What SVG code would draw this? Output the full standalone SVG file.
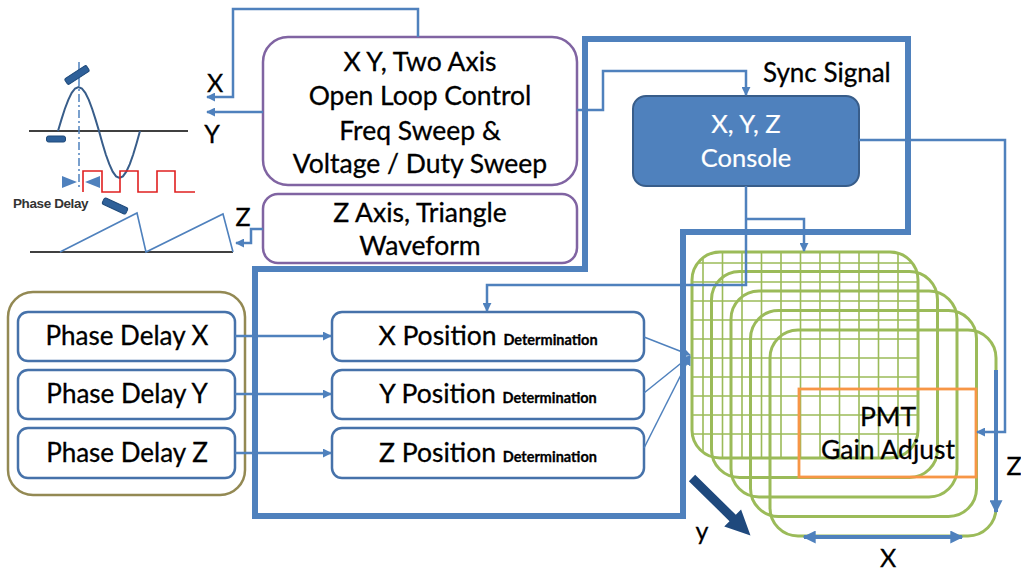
<svg xmlns="http://www.w3.org/2000/svg" width="1021" height="574" viewBox="0 0 1021 574">
  <defs>
    <style>
      .txt { font-family: Lato, "Open Sans", "Liberation Sans", sans-serif; fill: #000; stroke: #000; stroke-width: 0.3; }
      .wt { fill: #fff; stroke: #fff; stroke-width: 0.2; }
      .box { fill: #fff; stroke-width: 2.5; }
      .conn { fill: none; stroke: #4F81BD; stroke-width: 2.5; }
      .thin { fill: none; stroke: #4F81BD; stroke-width: 1.5; }
      .grid { stroke: #9BBB59; stroke-width: 1.6; }
      .layer { fill: none; stroke: #9BBB59; stroke-width: 3; }
      .mark { fill: #2E6099; stroke: #1F4A7A; stroke-width: 1; }
    </style>
    <marker id="ah" viewBox="0 0 10 10" refX="9" refY="5" markerWidth="9" markerHeight="9" markerUnits="userSpaceOnUse" orient="auto">
      <path d="M0,0 L10,5 L0,10 Z" fill="#4F81BD"/>
    </marker>
    <marker id="ahBig" viewBox="0 0 10 10" refX="9" refY="5" markerWidth="13" markerHeight="13" markerUnits="userSpaceOnUse" orient="auto-start-reverse">
      <path d="M0,0 L10,5 L0,10 Z" fill="#4F81BD"/>
    </marker>
    <clipPath id="backLayer">
      <rect x="692" y="252" width="226" height="206" rx="28"/>
    </clipPath>
  </defs>

  <!-- scan waveform sketch -->
  <g id="waveforms">
    <line x1="29" y1="131" x2="188" y2="131" stroke="#000" stroke-width="1.5"/>
    <line x1="79" y1="62" x2="79" y2="190" stroke="#4F81BD" stroke-width="1.5" stroke-dasharray="8 3 2 3"/>
    <polyline fill="none" stroke="#385D8A" stroke-width="2"
      points="58,131 61.4,119.6 64.8,109 68.3,99.9 71.7,92.9 75.1,88.5 78.5,87 81.9,88.5 85.3,92.9 88.8,99.9 92.2,109 95.6,119.6 99,131 102.4,143.2 105.8,154.5 109.3,164.2 112.7,171.7 116.1,176.4 119.5,178 122.9,176.4 126.3,171.7 129.8,164.2 133.2,154.5 136.6,143.2 140,131"/>
    <polyline fill="none" stroke="#E02020" stroke-width="1.6"
      points="83,192 83,171 102,171 102,192 120,192 120,171 138,171 138,192 157,192 157,171 175,171 175,192 195,192"/>
    <path d="M62,176 L77,182 L62,188 Z" fill="#4F81BD"/>
    <path d="M100,176 L85,182 L100,188 Z" fill="#4F81BD"/>
    <rect class="mark" x="64" y="71.5" width="26" height="7" rx="2" transform="rotate(-33 77 75)"/>
    <rect class="mark" x="46.5" y="136" width="19" height="6" rx="2"/>
    <rect class="mark" x="102" y="202.5" width="26" height="7" rx="2" transform="rotate(25 115 206)"/>
    <text x="13" y="208" font-family="'Liberation Sans', Arial, sans-serif" font-weight="bold" font-size="13.5" fill="#333" letter-spacing="-0.4">Phase Delay</text>
    <line x1="30" y1="252" x2="233" y2="252" stroke="#000" stroke-width="1.5"/>
    <polyline fill="none" stroke="#4F81BD" stroke-width="1.6" points="60,252 137,213 146,252 223,214 233,252"/>
  </g>

  <!-- thick blue frame around the control blocks -->
  <path id="frame" d="M585,39 L908,39 L908,232 L683,232 L683,516 L255,516 L255,269 L585,269 Z" fill="none" stroke="#4F81BD" stroke-width="6" stroke-linejoin="miter"/>

  <!-- stacked scan planes -->
  <g id="scan-planes">
    <g clip-path="url(#backLayer)">
      <g class="grid">
        <line x1="703" y1="250" x2="703" y2="460"/>
        <line x1="722.5" y1="250" x2="722.5" y2="460"/>
        <line x1="742" y1="250" x2="742" y2="460"/>
        <line x1="761.5" y1="250" x2="761.5" y2="460"/>
        <line x1="781" y1="250" x2="781" y2="460"/>
        <line x1="800.5" y1="250" x2="800.5" y2="460"/>
        <line x1="820" y1="250" x2="820" y2="460"/>
        <line x1="839.5" y1="250" x2="839.5" y2="460"/>
        <line x1="859" y1="250" x2="859" y2="460"/>
        <line x1="878.5" y1="250" x2="878.5" y2="460"/>
        <line x1="898" y1="250" x2="898" y2="460"/>
        <line x1="690" y1="263" x2="920" y2="263"/>
        <line x1="690" y1="282" x2="920" y2="282"/>
        <line x1="690" y1="301" x2="920" y2="301"/>
        <line x1="690" y1="320" x2="920" y2="320"/>
        <line x1="690" y1="339" x2="920" y2="339"/>
        <line x1="690" y1="358" x2="920" y2="358"/>
        <line x1="690" y1="377" x2="920" y2="377"/>
        <line x1="690" y1="396" x2="920" y2="396"/>
        <line x1="690" y1="415" x2="920" y2="415"/>
        <line x1="690" y1="434" x2="920" y2="434"/>
      </g>
    </g>
    <rect class="layer" x="692" y="252" width="226" height="206" rx="28"/>
    <rect class="layer" x="711.5" y="271.5" width="226" height="206" rx="28"/>
    <rect class="layer" x="731" y="291" width="226" height="206" rx="28"/>
    <rect class="layer" x="750.5" y="310.5" width="226" height="206" rx="28"/>
    <rect class="layer" x="770" y="330" width="226" height="206" rx="28"/>
  </g>

  <g id="pmt">
    <rect x="799" y="389" width="177" height="88" fill="none" stroke="#F79646" stroke-width="2.8"/>
    <text class="txt" x="888" y="426" font-size="26.5" text-anchor="middle">PMT</text>
    <text class="txt" x="888" y="459" font-size="26.5" text-anchor="middle">Gain Adjust</text>
  </g>

  <!-- control blocks -->
  <g id="xy-control">
    <rect class="box" x="263" y="37" width="314" height="148" rx="25" stroke="#8064A2"/>
    <text class="txt" x="420" y="71" font-size="26.5" text-anchor="middle">X Y, Two Axis</text>
    <text class="txt" x="420" y="105" font-size="26.5" text-anchor="middle">Open Loop Control</text>
    <text class="txt" x="420" y="140" font-size="26.5" text-anchor="middle">Freq Sweep &amp;</text>
    <text class="txt" x="420" y="173" font-size="26.5" text-anchor="middle">Voltage / Duty Sweep</text>
  </g>
  <g id="z-control">
    <rect class="box" x="263" y="194" width="314" height="69" rx="15" stroke="#8064A2"/>
    <text class="txt" x="420" y="222" font-size="26.5" text-anchor="middle">Z Axis, Triangle</text>
    <text class="txt" x="420" y="255" font-size="26.5" text-anchor="middle">Waveform</text>
  </g>
  <g id="console">
    <rect x="633" y="96" width="226" height="90" rx="13" fill="#4F81BD" stroke="#385D8A" stroke-width="2"/>
    <text class="txt wt" x="746" y="133" font-size="25.5" text-anchor="middle">X, Y, Z</text>
    <text class="txt wt" x="746" y="167" font-size="25.5" text-anchor="middle">Console</text>
  </g>

  <g id="phase-delays">
    <rect x="8" y="292" width="237" height="203" rx="25" fill="none" stroke="#938953" stroke-width="2.5"/>
    <g id="phase-x">
      <rect class="box" x="18" y="312" width="217" height="49" rx="10" stroke="#4672AA"/>
      <text class="txt" x="127" y="345" font-size="26" text-anchor="middle">Phase Delay X</text>
    </g>
    <g id="phase-y">
      <rect class="box" x="18" y="370" width="217" height="49" rx="10" stroke="#4672AA"/>
      <text class="txt" x="127" y="403" font-size="26" text-anchor="middle">Phase Delay Y</text>
    </g>
    <g id="phase-z">
      <rect class="box" x="18" y="428" width="217" height="50" rx="10" stroke="#4672AA"/>
      <text class="txt" x="127" y="462" font-size="26" text-anchor="middle">Phase Delay Z</text>
    </g>
  </g>

  <g id="pos-x">
    <rect class="box" x="332" y="312" width="312" height="49" rx="10" stroke="#4672AA"/>
    <text class="txt" x="488" y="345" font-size="26.5" text-anchor="middle">X Position <tspan font-size="14.5" font-weight="bold">Determination</tspan></text>
  </g>
  <g id="pos-y">
    <rect class="box" x="332" y="370" width="312" height="49" rx="10" stroke="#4672AA"/>
    <text class="txt" x="488" y="403" font-size="26.5" text-anchor="middle">Y Position <tspan font-size="14.5" font-weight="bold">Determination</tspan></text>
  </g>
  <g id="pos-z">
    <rect class="box" x="332" y="428" width="312" height="50" rx="10" stroke="#4672AA"/>
    <text class="txt" x="488" y="462" font-size="26.5" text-anchor="middle">Z Position <tspan font-size="14.5" font-weight="bold">Determination</tspan></text>
  </g>

  <!-- connectors -->
  <g id="connectors">
    <polyline class="conn" points="418,37 418,9 233,9 233,97 207,97" marker-end="url(#ah)"/>
    <polyline class="conn" points="263,112 207,112" marker-end="url(#ah)"/>
    <polyline class="conn" points="263,229 251,229 251,243 236,243" marker-end="url(#ah)"/>
    <polyline class="conn" points="577,110 603,110 603,71 746,71 746,95" marker-end="url(#ah)"/>
    <polyline class="conn" points="746,186 746,285 487,285 487,311" marker-end="url(#ah)"/>
    <polyline class="conn" points="746,219 804,219 804,251" marker-end="url(#ah)"/>
    <polyline class="conn" points="859,140 1005,140 1005,432 977,432" marker-end="url(#ah)"/>
    <line class="conn" x1="235" y1="336" x2="331" y2="336" marker-end="url(#ah)"/>
    <line class="conn" x1="235" y1="394" x2="331" y2="394" marker-end="url(#ah)"/>
    <line class="conn" x1="235" y1="453" x2="331" y2="453" marker-end="url(#ah)"/>
    <line class="thin" x1="644" y1="337" x2="690" y2="355" marker-end="url(#ah)"/>
    <line class="thin" x1="644" y1="393" x2="690" y2="356" marker-end="url(#ah)"/>
    <line class="thin" x1="644" y1="448" x2="690" y2="357" marker-end="url(#ah)"/>
    <line x1="996" y1="370" x2="996" y2="512" stroke="#4F81BD" stroke-width="4" marker-end="url(#ahBig)"/>
    <line x1="804" y1="537" x2="962" y2="537" stroke="#4F81BD" stroke-width="4" marker-start="url(#ahBig)" marker-end="url(#ahBig)"/>
    <polygon points="0,-4.5 57,-4.5 57,-12 82,0 57,12 57,4.5 0,4.5" fill="#1F497D" transform="translate(692,478) rotate(44.5)"/>
  </g>

  <!-- axis and signal labels -->
  <g id="labels">
    <text class="txt" x="215" y="92" font-size="25" text-anchor="middle">X</text>
    <text class="txt" x="212" y="143" font-size="25" text-anchor="middle">Y</text>
    <text class="txt" x="243" y="226" font-size="25" text-anchor="middle">Z</text>
    <text class="txt" x="763" y="82" font-size="26">Sync Signal</text>
    <text class="txt" x="1014" y="475" font-size="25" text-anchor="middle">Z</text>
    <text class="txt" x="888" y="567" font-size="25" text-anchor="middle">X</text>
    <text class="txt" x="702" y="540" font-size="25" text-anchor="middle">y</text>
  </g>
</svg>
